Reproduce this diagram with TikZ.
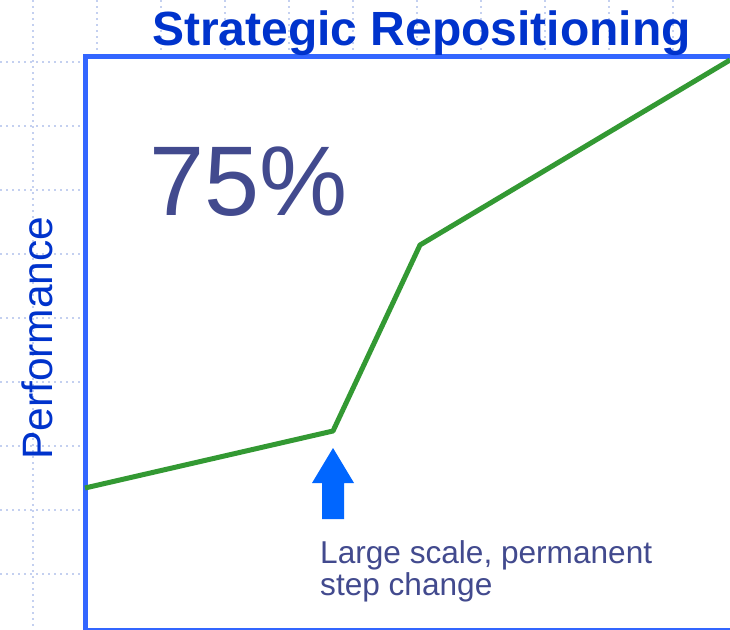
\documentclass[tikz,border=0pt]{standalone}
\usepackage{fontspec}
\setmainfont{Liberation Sans}
\definecolor{titleBlue}{HTML}{0033CC}
\definecolor{frameBlue}{HTML}{3366FF}
\definecolor{gridBlue}{HTML}{C4D0F0}
\definecolor{lineGreen}{HTML}{339933}
\definecolor{arrowBlue}{HTML}{0066FF}
\definecolor{noteBlue}{HTML}{424A8E}

\begin{document}
\begin{tikzpicture}
  [x=1pt,y=-1pt,
   gridL/.style={gridBlue,line width=1.2pt,dash pattern=on 2pt off 4pt},
   frameL/.style={frameBlue,line width=5pt},
   perfL/.style={lineGreen,line width=5pt,line join=round},
   titleN/.style={anchor=base west,inner sep=0pt,text=titleBlue,font=\fontsize{48}{56}\selectfont\bfseries},
   axisN/.style={anchor=base west,inner sep=0pt,text=titleBlue,rotate=90,font=\fontsize{42.5}{50}\selectfont},
   pctN/.style={anchor=base west,inner sep=0pt,text=noteBlue,font=\fontsize{99}{110}\selectfont},
   noteN/.style={anchor=base west,inner sep=0pt,text=noteBlue,align=left,font=\fontsize{31.6}{32}\selectfont},
  ]
 \useasboundingbox (0,0) rectangle (730,629);

 % background grid
 \foreach \i in {0,...,11}
   \draw[gridL] (33+64*\i,0) -- (33+64*\i,629);
 \foreach \j in {0,...,8}
   \draw[gridL] (0,62+64*\j) -- (85,62+64*\j);

 % chart frame
 \fill[white] (85,56) rectangle (740,640);
 \draw[frameL] (740,56) -- (85,56) -- (85,630) -- (740,630);

 \node[titleN] (title) at (152,45) {Strategic Repositioning};
 \node[axisN] (perf) at (52,460) {Performance};
 \node[pctN] (pct) at (149,215) {75\%};
 \node[noteN] (note) at (320,595) {Large scale, permanent\\step change};

 % performance curve
 \coordinate (p0) at (85,488);
 \coordinate (p1) at (333,431);
 \coordinate (p2) at (420,245);
 \coordinate (p3) at (730,60);
 \draw[perfL] (p0) -- (p1) -- (p2) -- (p3);

 % step arrow
 \coordinate (arrowTip) at (333,448);
 \fill[arrowBlue] (arrowTip) -- ++(21,35) -- ++(-10,0) -- ++(0,36)
   -- ++(-22,0) -- ++(0,-36) -- ++(-10,0) -- cycle;
\end{tikzpicture}
\end{document}
